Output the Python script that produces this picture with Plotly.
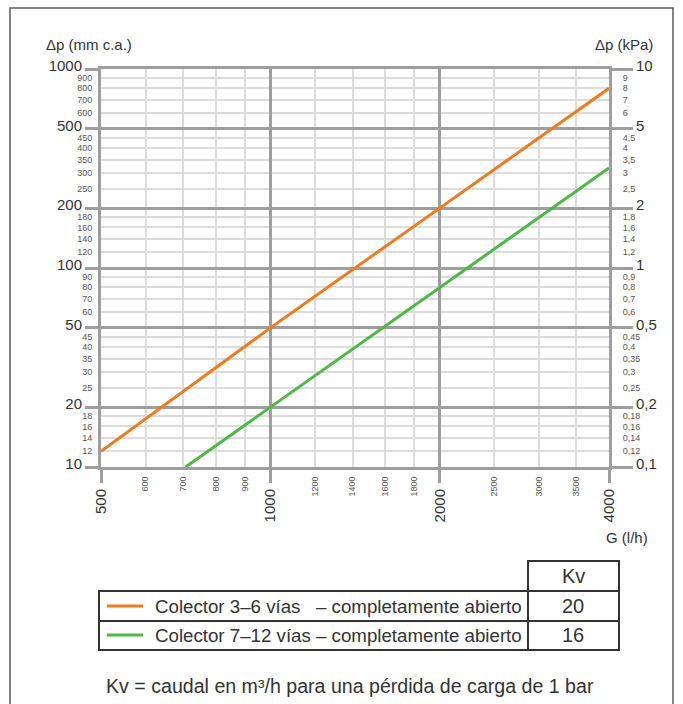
import math
import plotly.graph_objects as go

# Flow rate G (l/h) and pressure drop Δp (mm c.a.)
flow_3_6 = [500, 1000, 2000, 4000]
dp_3_6 = [12, 50, 200, 800]
flow_7_12 = [707, 1000, 2000, 4000]
dp_7_12 = [10, 20, 80, 318]

series_names = ["Colector 3–6 vías   – completamente abierto",
                "Colector 7–12 vías – completamente abierto"]
kv_values = ["20", "16"]
series_colors = ["#F07A1E", "#4DB845"]

# Axis ticks
x_major = [500, 1000, 2000, 4000]
x_minor = [600, 700, 800, 900, 1200, 1400, 1600, 1800, 2500, 3000, 3500]
y_major = [10, 20, 50, 100, 200, 500, 1000]
y_minor = [12, 14, 16, 18, 25, 30, 35, 40, 45, 60, 70, 80, 90,
           120, 140, 160, 180, 250, 300, 350, 400, 450, 600, 700, 800, 900]
kpa_major = ["0,1", "0,2", "0,5", "1", "2", "5", "10"]
kpa_minor = ["0,12", "0,14", "0,16", "0,18", "0,25", "0,3", "0,35", "0,4", "0,45",
             "0,6", "0,7", "0,8", "0,9", "1,2", "1,4", "1,6", "1,8",
             "2,5", "3", "3,5", "4", "4,5", "6", "7", "8", "9"]

W, H = 683, 704
L, R, T, B = 101, 609, 69, 467          # plot area edges in pixels


def px(x):
    return (x - L) / (R - L)


def py(y):
    return (B - y) / (B - T)


MAJ = "#9e9e9e"
MIN = "#dcdcdc"
FONT = "Liberation Sans, Arial, sans-serif"

xr = [math.log10(500), math.log10(4000)]
yr = [1, 3]

fig = go.Figure()
for fx, fy, c in [(flow_3_6, dp_3_6, series_colors[0]), (flow_7_12, dp_7_12, series_colors[1])]:
    fig.add_trace(go.Scatter(x=fx, y=fy, mode="lines", line=dict(color=c, width=3),
                             showlegend=False, hoverinfo="skip", cliponaxis=True))

# empty traces so that the secondary label axes get drawn
for xa, ya in [("x2", "y"), ("x", "y2"), ("x", "y3"), ("x", "y4")]:
    fig.add_trace(go.Scatter(x=[], y=[], xaxis=xa, yaxis=ya, mode="lines",
                             showlegend=False, hoverinfo="skip"))

common_major = dict(type="log", ticks="outside", tickwidth=3, tickcolor=MAJ,
                    showgrid=True, gridcolor=MAJ, gridwidth=3, zeroline=False,
                    showline=True, linecolor=MAJ, linewidth=3, mirror=True,
                    tickfont=dict(family=FONT, size=15, color="#333333"))
common_minor = dict(type="log", ticks="outside", tickcolor="rgba(0,0,0,0)",
                    showgrid=False, zeroline=False, showline=False,
                    tickfont=dict(family=FONT, size=9, color="#555555"))

fig.update_layout(
    width=W, height=H,
    margin=dict(l=L, r=W - R, t=T, b=H - B, pad=0),
    paper_bgcolor="white", plot_bgcolor="white",
    xaxis=dict(range=xr, tickvals=x_major, ticktext=[str(v) for v in x_major],
               tickangle=-90, ticklen=13,
               minor=dict(tickvals=x_minor, showgrid=True, gridcolor=MIN, gridwidth=2, ticks=""),
               **common_major),
    xaxis2=dict(range=xr, overlaying="x", anchor="y", side="bottom",
                tickvals=x_minor, ticktext=[str(v) for v in x_minor],
                tickangle=-90, ticklen=5, **common_minor),
    yaxis=dict(range=yr, tickvals=y_major, ticktext=[str(v) for v in y_major], ticklen=13,
               ticklabelshift=-3,
               minor=dict(tickvals=y_minor, showgrid=True, gridcolor=MIN, gridwidth=2, ticks=""),
               **common_major),
    yaxis2=dict(range=yr, overlaying="y", anchor="x", side="left",
                tickvals=y_minor, ticktext=[str(v) for v in y_minor], ticklen=6, **common_minor),
    yaxis3=dict(range=yr, overlaying="y", anchor="x", side="right",
                tickvals=y_major, ticktext=kpa_major, ticklen=23, ticklabelshift=-3,
                **{**common_major, "showgrid": False, "showline": False, "mirror": False}),
    yaxis4=dict(range=yr, overlaying="y", anchor="x", side="right",
                tickvals=y_minor, ticktext=kpa_minor, ticklen=11, **common_minor),
)

shapes = []
# outer frame
shapes.append(dict(type="rect", xref="paper", yref="paper",
                   x0=px(10), x1=px(673), y0=py(730), y1=py(8),
                   line=dict(color="#5a5a5a", width=1.5), layer="below"))
# legend table
tline = dict(color="#333333", width=2)
shapes.append(dict(type="rect", xref="paper", yref="paper",
                   x0=px(528), x1=px(619), y0=py(591), y1=py(561), line=tline))
shapes.append(dict(type="rect", xref="paper", yref="paper",
                   x0=px(99), x1=px(619), y0=py(650), y1=py(591), line=tline))
shapes.append(dict(type="line", xref="paper", yref="paper",
                   x0=px(99), x1=px(619), y0=py(621), y1=py(621), line=tline))
shapes.append(dict(type="line", xref="paper", yref="paper",
                   x0=px(528), x1=px(528), y0=py(650), y1=py(591), line=tline))
row_y = [606, 635]
for ry, c in zip(row_y, series_colors):
    shapes.append(dict(type="line", xref="paper", yref="paper",
                       x0=px(107), x1=px(143), y0=py(ry), y1=py(ry),
                       line=dict(color=c, width=3)))
fig.update_layout(shapes=shapes)

ann = []


def text(s, x, y, size, xanchor="left", color="#333333"):
    ann.append(dict(text=s, xref="paper", yref="paper", x=px(x), y=py(y),
                    xanchor=xanchor, yanchor="middle", showarrow=False,
                    font=dict(family=FONT, size=size, color=color)))


text("Δp (mm c.a.)", 44, 44, 15)
text("Δp (kPa)", 655, 44, 15, xanchor="right")
text("G (l/h)", 650, 537, 15, xanchor="right")
text("Kv", 573, 576, 20, xanchor="center")
for ry, name, kv in zip(row_y, series_names, kv_values):
    text(name, 153, ry, 18.7)
    text(kv, 573, ry, 20, xanchor="center")
text("Kv = caudal en m³/h para una pérdida de carga de 1 bar", 104, 686, 19.6)
fig.update_layout(annotations=ann)

fig.write_html("out.html")
